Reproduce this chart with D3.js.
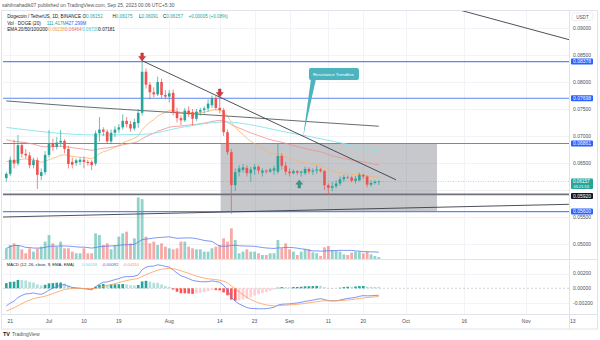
<!DOCTYPE html>
<html>
<head>
<meta charset="utf-8">
<script src="https://cdn.jsdelivr.net/npm/d3@7/dist/d3.min.js"></script>
<style>
html,body{margin:0;padding:0;background:#fff;}
svg{display:block;}
text{font-family:"Liberation Sans",Arial,Helvetica,sans-serif;}
</style>
</head>
<body>
<svg id="chart" width="600" height="340"></svg>
<script>
// ---------------- data ----------------
const firstDay = "2023-06-20";
const opens  = [0.0622,0.0630,0.0656,0.0649,0.0683,0.0667,0.0664,0.0646,0.0655,0.0626,0.0633,
  0.0665,0.0687,0.0680,0.0688,0.0691,0.0676,0.0652,0.0650,0.0652,0.0656,0.0652,0.0652,
  0.0649,0.0705,0.0712,0.0708,0.0690,0.0706,0.0712,0.0716,0.0728,0.0722,0.0714,0.0724,
  0.0743,0.0819,0.0795,0.0781,0.0777,0.0800,0.0776,0.0773,0.0780,0.0745,0.0733,0.0729,
  0.0747,0.0744,0.0732,0.0745,0.0748,0.0751,0.0757,0.0770,0.0752,0.0748,0.0707,0.0670,
  0.0609,0.0633,0.0637,0.0641,0.0631,0.0638,0.0643,0.0632,0.0636,0.0634,0.0636,0.0634,
  0.0663,0.0645,0.0634,0.0631,0.0635,0.0632,0.0631,0.0639,0.0634,0.0636,0.0638,0.0635,
  0.0609,0.0604,0.0607,0.0612,0.0620,0.0624,0.0623,0.0617,0.0618,0.0628,0.0625,0.0610,
  0.0613,0.06152];
const highs  = [0.0633,0.0662,0.0693,0.0702,0.0688,0.0676,0.0670,0.0660,0.0660,0.0640,0.0672,
  0.0711,0.0695,0.0698,0.0711,0.0694,0.0682,0.0660,0.0658,0.0660,0.0662,0.0656,0.0655,
  0.0710,0.0735,0.0716,0.0712,0.0712,0.0718,0.0722,0.0740,0.0735,0.0728,0.0732,0.0750,
  0.0843,0.0825,0.0800,0.0790,0.0810,0.0806,0.0785,0.0785,0.0786,0.0752,0.0738,0.0752,
  0.0755,0.0750,0.0750,0.0752,0.0755,0.0768,0.0775,0.0774,0.0772,0.0752,0.0712,0.0676,
  0.0640,0.0646,0.0648,0.0646,0.0643,0.0648,0.0646,0.0640,0.0638,0.0641,0.0645,0.0687,
  0.0668,0.0652,0.0640,0.0638,0.0637,0.0636,0.0643,0.0642,0.0640,0.0645,0.0641,0.0637,
  0.0612,0.0615,0.0618,0.0625,0.0628,0.0627,0.0626,0.0626,0.0632,0.0630,0.0627,0.0618,
  0.0618,0.06175];
const lows   = [0.0615,0.0626,0.0640,0.0645,0.0660,0.0658,0.0640,0.0640,0.0602,0.0618,0.0628,
  0.0660,0.0672,0.0675,0.0680,0.0668,0.0640,0.0640,0.0645,0.0646,0.0640,0.0645,0.0637,
  0.0645,0.0690,0.0700,0.0686,0.0685,0.0698,0.0706,0.0712,0.0716,0.0708,0.0710,0.0715,
  0.0738,0.0788,0.0768,0.0772,0.0774,0.0770,0.0768,0.0762,0.0738,0.0725,0.0720,0.0726,
  0.0735,0.0720,0.0728,0.0738,0.0742,0.0745,0.0752,0.0748,0.0742,0.0700,0.0665,0.0556,
  0.0598,0.0625,0.0632,0.0625,0.0615,0.0628,0.0630,0.0625,0.0630,0.0632,0.0628,0.0630,
  0.0638,0.0628,0.0625,0.0629,0.0628,0.0625,0.0628,0.0630,0.0628,0.0630,0.0632,0.0600,
  0.0591,0.0598,0.0603,0.0608,0.0615,0.0620,0.0614,0.0612,0.0616,0.0620,0.0605,0.0606,
  0.0610,0.06091];
const closes = [0.0630,0.0656,0.0649,0.0683,0.0667,0.0664,0.0646,0.0655,0.0628,0.0633,0.0665,
  0.0687,0.0680,0.0688,0.0691,0.0676,0.0648,0.0647,0.0655,0.0656,0.0652,0.0650,0.0646,
  0.0705,0.0712,0.0708,0.0690,0.0706,0.0712,0.0716,0.0728,0.0722,0.0714,0.0726,0.0743,
  0.0819,0.0795,0.0781,0.0777,0.0800,0.0776,0.0773,0.0779,0.0743,0.0733,0.0729,0.0747,
  0.0740,0.0732,0.0745,0.0748,0.0751,0.0760,0.0770,0.0752,0.0748,0.0707,0.0670,0.0609,
  0.0633,0.0640,0.0642,0.0631,0.0638,0.0643,0.0636,0.0636,0.0634,0.0638,0.0640,0.0663,
  0.0645,0.0634,0.0631,0.0635,0.0632,0.0634,0.0639,0.0634,0.0636,0.0638,0.0635,0.0609,
  0.0604,0.0607,0.0612,0.0620,0.0624,0.0623,0.0617,0.0621,0.0628,0.0625,0.0610,0.0613,
  0.06152,0.06157];
const volumes = [625,819,916,819,566,332,625,429,600,722,1014,
  1404,916,722,1014,625,625,429,332,332,625,332,332,
  1501,1404,819,916,566,819,1306,1501,1599,916,1209,
  3600,3500,1306,916,1014,819,916,722,625,566,625,
  1014,1014,722,625,566,566,429,429,625,722,819,
  1209,1014,1794,1111,332,429,566,429,429,332,234,234,332,332,1111,
  625,916,566,429,234,429,566,566,390,332,175,683,760,527,468,429,273,234,370,429,429,332,429,273,175,111];

const priceTicks = [0.09,0.085,0.08,0.075,0.07,0.065,0.06,0.055,0.05];
const hiddenPriceTicks = [0.06];   // covered by the price tags
const macdTicks = [0.002,0,-0.002];
const timeTickDates = ["2023-06-21","2023-07-01","2023-07-10","2023-07-19","2023-08-01","2023-08-14",
  "2023-08-23","2023-09-01","2023-09-11","2023-09-20","2023-10-01","2023-10-16","2023-11-01","2023-11-13"];
const timeTickLabels = ["21","Jul","10","19","Aug","14","23","Sep","11","20","Oct","16","Nov","13"];

const levelPrices = [0.08378,0.07698,0.06861,0.05600];
const supportPrice = 0.05920;
const lastPrice = 0.06157;
const countdown = "05:21:53";

const emaPeriods = [20,50];
const emaStart = [0.0653,0.0693];            // read at the left edge
const ema100Dates  = ["2023-06-20","2023-07-13","2023-07-25","2023-08-05","2023-08-15","2023-09-01","2023-09-24"];
const ema100Values = [0.0716,0.0702,0.0703,0.0717,0.0726,0.0706,0.06720];
const ema200Dates  = ["2023-06-20","2023-07-10","2023-08-01","2023-08-20","2023-09-05","2023-09-24"];
const ema200Values = [0.0765,0.0754,0.0744,0.0735,0.0727,0.07181];
const emaLegend = [0.06238,0.06464,0.06720,0.07181];
const emaColors = ["#f9b46b","#f08f8f","#86e3ea","#555a63"];
const macdStart = {fast:0.0630, slow:0.0654, signal:-0.0031};
const macdLegend = ["0.00018","-0.00092","-0.00110"];
const volMaPeriod = 20;

const resistanceLine = [["2023-07-25T00:00",0.08394],["2023-09-28T10:00",0.06190]];
const upperLine = [["2023-10-14T20:00",0.09333],["2023-11-12T08:00",0.08778]];
const lowerLine = [["2023-06-19T00:00",0.05500],["2023-11-12T00:00",0.05735]];
const rangeBox = {from:"2023-08-14T07:00", to:"2023-10-09T00:00", top:0.06861, bottom:0.05600};
const downArrows = [["2023-07-25T00:00",0.08389],["2023-08-14T00:00",0.07722]];
const upArrows = [["2023-09-03T12:00",0.06185]];
const callout = {anchor:["2023-09-04T12:00",0.06985], box:["2023-09-06T00:00",0.08259], text:"Resistance Trendline"};

// ---------------- setup ----------------
const dt = s => new Date(s.length === 10 ? s + "T00:00:00Z" : s + ":00Z");
const svg = d3.select("#chart");
const L = 3, R = 569, PT = 11, PB = 259, MT = 259, MB = 314, AB = 329;
const up = "#26a69a", dn = "#ef5350";

const x = d3.scaleUtc().domain([dt("2023-07-01"), dt("2023-08-01")]).range([49, 49 + 31 * 3.88]);
const y = d3.scaleLinear().domain([0.05, 0.09]).range([244, 28]);
const yv = d3.scaleLinear().domain([0, 1000]).range([PB, PB - 1000 / 58.5]);
const ym = d3.scaleLinear().domain([-0.002, 0]).range([303, 288.3]);

const n = closes.length;
const days = d3.range(n).map(i => d3.utcDay.offset(dt(firstDay), i));
const candles = days.map((d, i) => ({d, o: opens[i], h: highs[i], l: lows[i], c: closes[i], v: volumes[i]}));

function emaFrom(vals, period, seed) {
  const a = 2 / (period + 1), out = [seed];
  for (let i = 1; i < vals.length; i++) out.push(out[i - 1] + a * (vals[i] - out[i - 1]));
  return out;
}
const emaComputed = emaPeriods.map((p, k) => emaFrom(closes, p, emaStart[k]));
const fast = emaFrom(closes, 12, macdStart.fast), slow = emaFrom(closes, 26, macdStart.slow);
const macd = fast.map((f, i) => f - slow[i]);
const signal = emaFrom(macd, 9, macdStart.signal);
const hist = macd.map((m, i) => m - signal[i]);
const volMa = volumes.map((v, i) => d3.mean(volumes.slice(Math.max(0, i - volMaPeriod + 1), i + 1)));

// ---------------- background / grid ----------------
svg.append("rect").attr("width", 600).attr("height", 340).attr("fill", "#fff");
const defs = svg.append("defs");
defs.append("clipPath").attr("id", "cp").append("rect").attr("x", L).attr("y", PT).attr("width", R - L).attr("height", PB - PT);
defs.append("clipPath").attr("id", "cm").append("rect").attr("x", L).attr("y", MT).attr("width", R - L).attr("height", MB - MT);

const grid = svg.append("g").attr("stroke", "#f2f3f6").attr("stroke-width", 1);
timeTickDates.forEach(s => {
  const xx = Math.round(x(dt(s))) + 0.5;
  if (xx < R) grid.append("line").attr("x1", xx).attr("x2", xx).attr("y1", PT).attr("y2", MB);
});
priceTicks.forEach(p => {
  const yy = Math.round(y(p)) + 0.5;
  if (yy > PT && yy < PB) grid.append("line").attr("x1", L).attr("x2", R).attr("y1", yy).attr("y2", yy);
});
macdTicks.forEach(p => {
  const yy = Math.round(ym(p)) + 0.5;
  if (p !== 0) grid.append("line").attr("x1", L).attr("x2", R).attr("y1", yy).attr("y2", yy);
});

const sep = svg.append("g").attr("stroke", "#e0e3eb").attr("stroke-width", 1).attr("fill", "none");
sep.append("rect").attr("x", 1.5).attr("y", PT - 0.5).attr("width", 596).attr("height", AB - PT + 0.5);
sep.append("line").attr("x1", 1.5).attr("x2", 597.5).attr("y1", PB + 0.5).attr("y2", PB + 0.5);
sep.append("line").attr("x1", 1.5).attr("x2", 597.5).attr("y1", MB + 0.5).attr("y2", MB + 0.5);
sep.append("line").attr("x1", R + 0.5).attr("x2", R + 0.5).attr("y1", PT).attr("y2", AB);

// ---------------- price pane ----------------
const gp = svg.append("g").attr("clip-path", "url(#cp)");

gp.append("rect").attr("x", x(dt(rangeBox.from))).attr("y", y(rangeBox.top))
  .attr("width", x(dt(rangeBox.to)) - x(dt(rangeBox.from))).attr("height", y(rangeBox.bottom) - y(rangeBox.top))
  .attr("fill", "rgba(120,123,134,0.42)");

gp.append("g").selectAll("rect").data(candles).join("rect")
  .attr("x", d => x(d.d) - 1.4).attr("width", 2.8)
  .attr("y", d => yv(d.v)).attr("height", d => PB - yv(d.v))
  .attr("fill", d => d.c >= d.o ? "rgba(38,166,154,0.5)" : "rgba(239,83,80,0.5)");
gp.append("path").datum(volMa).attr("fill", "none").attr("stroke", "#5b7cf0").attr("stroke-width", 0.8)
  .attr("d", d3.line().x((v, i) => x(days[i])).y(v => yv(v)));

levelPrices.forEach(p => gp.append("line").attr("x1", L).attr("x2", R).attr("y1", y(p)).attr("y2", y(p))
  .attr("stroke", "#5b86f5").attr("stroke-width", 1.1));
gp.append("line").attr("x1", L).attr("x2", R).attr("y1", y(supportPrice)).attr("y2", y(supportPrice))
  .attr("stroke", "#6f727c").attr("stroke-width", 1.8);

const lineD = d3.line().x((v, i) => x(days[i])).y(v => y(v));
emaComputed.forEach((e, k) => gp.append("path").datum(e).attr("fill", "none").attr("stroke", emaColors[k])
  .attr("stroke-width", 0.8).attr("d", lineD));
[[ema100Dates, ema100Values, emaColors[2]], [ema200Dates, ema200Values, emaColors[3]]].forEach(([ds, vs, col]) =>
  gp.append("path").datum(vs).attr("fill", "none").attr("stroke", col).attr("stroke-width", 0.9)
    .attr("d", d3.line().curve(d3.curveMonotoneX).x((v, i) => x(dt(ds[i]))).y(v => y(v))));

[resistanceLine, upperLine, lowerLine].forEach(ln => gp.append("line")
  .attr("x1", x(dt(ln[0][0]))).attr("y1", y(ln[0][1])).attr("x2", x(dt(ln[1][0]))).attr("y2", y(ln[1][1]))
  .attr("stroke", "#3a3d45").attr("stroke-width", 0.9));

gp.append("line").attr("x1", L).attr("x2", R).attr("y1", y(lastPrice)).attr("y2", y(lastPrice))
  .attr("stroke", "#26a69a").attr("stroke-width", 0.6).attr("stroke-dasharray", "1,1.5").attr("opacity", 0.6);

const cg = gp.append("g");
cg.selectAll("line").data(candles).join("line")
  .attr("x1", d => x(d.d)).attr("x2", d => x(d.d)).attr("y1", d => y(d.h)).attr("y2", d => y(d.l))
  .attr("stroke", d => d.c >= d.o ? up : dn).attr("stroke-width", 0.7);
cg.selectAll("rect").data(candles).join("rect")
  .attr("x", d => x(d.d) - 1.3).attr("width", 2.6)
  .attr("y", d => y(Math.max(d.o, d.c))).attr("height", d => Math.max(0.7, Math.abs(y(d.o) - y(d.c))))
  .attr("fill", d => d.c >= d.o ? up : dn);

downArrows.forEach(a => {
  const ax = x(dt(a[0])), ay = y(a[1]);
  gp.append("path").attr("d", `M${ax-1.3},${ay-8}h2.6v3.5h2.2l-3.5,4.5l-3.5,-4.5h2.2z`)
    .attr("fill", "#d7373f").attr("stroke", "#a32229").attr("stroke-width", 0.4);
});
upArrows.forEach(a => {
  const ax = x(dt(a[0])), ay = y(a[1]);
  gp.append("path").attr("d", `M${ax},${ay}l3.4,4.2h-2.1v3.8h-2.6v-3.8h-2.1z`)
    .attr("fill", "#3d9488").attr("stroke", "#2b7a6f").attr("stroke-width", 0.4);
});

{
  const axp = x(dt(callout.anchor[0])), ayp = y(callout.anchor[1]);
  const bx = x(dt(callout.box[0])), by = y(callout.box[1]);
  const g = gp.append("g");
  g.append("path").attr("d", `M${bx+2},${by+11}L${axp},${ayp}L${bx+7},${by+11}Z`).attr("fill", "#4cb3bf");
  g.append("rect").attr("x", bx).attr("y", by).attr("width", 50).attr("height", 12).attr("rx", 2).attr("fill", "#4cb3bf");
  g.append("text").attr("x", bx + 4).attr("y", by + 7.6).attr("font-size", 4.4).attr("fill", "#fff").text(callout.text);
}

// ---------------- MACD pane ----------------
const gm = svg.append("g").attr("clip-path", "url(#cm)");
gm.append("line").attr("x1", L).attr("x2", R).attr("y1", ym(0)).attr("y2", ym(0))
  .attr("stroke", "#b2b5be").attr("stroke-width", 0.6).attr("stroke-dasharray", "2,2");
gm.selectAll("rect").data(hist).join("rect")
  .attr("x", (h, i) => x(days[i]) - 1.3).attr("width", 2.6)
  .attr("y", h => Math.min(ym(h), ym(0))).attr("height", h => Math.abs(ym(h) - ym(0)))
  .attr("fill", (h, i) => {
    const prev = i > 0 ? hist[i - 1] : h;
    if (h >= 0) return h >= prev ? "#26a69a" : "#b2dfdb";
    return h <= prev ? "#ff5252" : "#ffcdd2";
  });
gm.append("path").datum(macd).attr("fill", "none").attr("stroke", "#5b7cf0").attr("stroke-width", 0.8)
  .attr("d", d3.line().x((v, i) => x(days[i])).y(v => ym(v)));
gm.append("path").datum(signal).attr("fill", "none").attr("stroke", "#ff9d55").attr("stroke-width", 0.8)
  .attr("d", d3.line().x((v, i) => x(days[i])).y(v => ym(v)));

// ---------------- axes / labels ----------------
const fs = 5;
const ax = svg.append("g").attr("font-size", fs).attr("fill", "#4a4e59");
priceTicks.forEach(p => {
  const yy = y(p);
  if (hiddenPriceTicks.includes(p)) return;
  if (yy > PT + 3 && yy < PB - 2) ax.append("text").attr("x", 573).attr("y", yy + 1.8).text(p.toFixed(5));
});
macdTicks.forEach(p => ax.append("text").attr("x", 573).attr("y", ym(p) + 1.8).text(p.toFixed(5)));
timeTickDates.forEach((s, i) => ax.append("text").attr("x", x(dt(s))).attr("y", 323)
  .attr("text-anchor", "middle").text(timeTickLabels[i]));

function tag(yy, bg, fg, txt) {
  svg.append("rect").attr("x", 571).attr("y", yy - 3).attr("width", 22).attr("height", 6).attr("rx", 1).attr("fill", bg);
  svg.append("text").attr("x", 573).attr("y", yy + 1.8).attr("font-size", fs).attr("fill", fg).text(txt);
}
levelPrices.forEach(p => tag(y(p), "#2962ff", "#fff", p.toFixed(5)));
{
  const yy = y(lastPrice);
  svg.append("rect").attr("x", 571).attr("y", yy - 3).attr("width", 22).attr("height", 10.5).attr("rx", 1).attr("fill", up);
  svg.append("text").attr("x", 573).attr("y", yy + 1.6).attr("font-size", 4.6).attr("fill", "#fff").text(lastPrice.toFixed(5));
  svg.append("text").attr("x", 573.5).attr("y", yy + 6.4).attr("font-size", 4).attr("fill", "#fff").text(countdown);
}
tag(y(supportPrice) + 1.6, "#131722", "#fff", supportPrice.toFixed(5));

svg.append("rect").attr("x", 572).attr("y", 13).attr("width", 21).attr("height", 7.5).attr("rx", 1.5)
  .attr("fill", "#fff").attr("stroke", "#e0e3eb").attr("stroke-width", 0.6);
svg.append("text").attr("x", 582.5).attr("y", 18.6).attr("font-size", 4.6).attr("text-anchor", "middle").attr("fill", "#4a4e59").text("USDT");

svg.append("text").attr("x", 2).attr("y", 7).attr("font-size", 4.95).attr("fill", "#555")
  .text("sahilmahadik07 published on TradingView.com, Sep 25, 2023 00:06 UTC+5:30");

const lg = svg.append("g").attr("font-size", 4.6);
function seg(xx, yy, txt, col, f) { const t = lg.append("text").attr("x", xx).attr("y", yy).attr("fill", col).text(txt); if (f) t.attr("font-size", f); }
seg(7.3, 18, "Dogecoin / TetherUS, 1D, BINANCE", "#131722");
const ohlc = [["O", opens[n-1]], ["H", highs[n-1]], ["L", lows[n-1]], ["C", closes[n-1]]];
const ohlcX = [82.5, 112.5, 139, 163];
ohlc.forEach((o, i) => {
  const t = lg.append("text").attr("x", ohlcX[i]).attr("y", 18);
  t.append("tspan").attr("fill", "#131722").text(o[0]);
  t.append("tspan").attr("fill", up).text(o[1].toFixed(5));
});
seg(188.5, 18, "+0.00005 (+0.08%)", up);
seg(7.3, 24.5, "Vol · DOGE (20)", "#131722");
seg(46.7, 24.5, "111.417M", up);
seg(66, 24.5, "427.299M", "#2962ff");
seg(7.3, 31, "EMA 20/50/100/200", "#131722");
const emaTxtX = [48.3, 65, 82, 98.3];
const emaTxtCol = ["#f7a13e", "#ef6b6b", "#3fc7d3", "#131722"];
emaLegend.forEach((v, k) => seg(emaTxtX[k], 31, v.toFixed(5), emaTxtCol[k]));
seg(6.7, 265.5, "MACD (12, 26, close, 9, EMA, EMA)", "#131722", 4.2);
seg(82, 265.5, macdLegend[0], "#7fcfc6", 4.2);
seg(101.7, 265.5, macdLegend[1], "#2962ff", 4.2);
seg(122.7, 265.5, macdLegend[2], "#ff9800", 4.2);

svg.append("text").attr("x", 3).attr("y", 336).attr("font-size", 5.5).attr("font-weight", "bold").attr("fill", "#131722").text("TV");
svg.append("text").attr("x", 12).attr("y", 336).attr("font-size", 5).attr("fill", "#555").text("TradingView");
</script>
</body>
</html>
